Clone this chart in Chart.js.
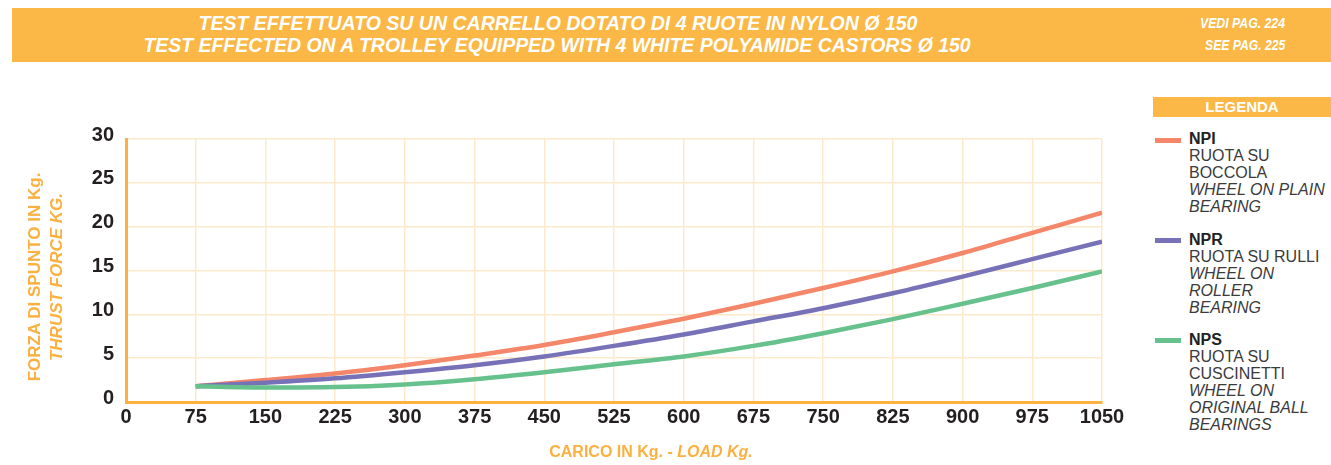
<!DOCTYPE html>
<html>
<head>
<meta charset="utf-8">
<script src="https://cdn.jsdelivr.net/npm/chart.js@4/dist/chart.umd.min.js"></script>
<style>
  html, body { margin:0; padding:0; background:#fff; }
  body { width:1331px; height:465px; position:relative; overflow:hidden; font-family:"Liberation Sans", Arial, sans-serif; }
  #hdr { position:absolute; left:12px; top:8px; width:1319px; height:54px; background:#FBB847; }
  .ht { position:absolute; white-space:nowrap; color:#fff; font-weight:bold; font-style:italic; transform-origin:center center; }
  #cv { position:absolute; left:0; top:0; }
  #legband { position:absolute; left:1153px; top:97px; width:178px; height:20px; background:#FBB847; color:#fff; font-weight:bold; font-size:15px; line-height:20px; text-align:center; }
  .sw { position:absolute; left:1155px; width:26px; height:5px; }
  .lt { position:absolute; left:1189px; font-size:16px; line-height:17px; color:#3b3b3b; white-space:nowrap; }
  .lt b { color:#222; }
  .lt i { font-style:italic; }
  #ytitle { position:absolute; left:-104px; top:255px; width:300px; height:44px; text-align:center; color:#FBB040; font-weight:bold; font-size:17px; line-height:22px; transform:rotate(-90deg); transform-origin:center center; white-space:nowrap; }
  #xtitle { position:absolute; left:451px; width:400px; top:442px; text-align:center; color:#FBB040; font-weight:bold; font-size:16px; line-height:20px; white-space:nowrap; }
</style>
</head>
<body>
<div id="hdr"></div>
<span class="ht" id="h1">TEST EFFETTUATO SU UN CARRELLO DOTATO DI 4 RUOTE IN NYLON Ø 150</span>
<span class="ht" id="h2">TEST EFFECTED ON A TROLLEY EQUIPPED WITH 4 WHITE POLYAMIDE CASTORS Ø 150</span>
<span class="ht" id="h3">VEDI PAG. 224</span>
<span class="ht" id="h4">SEE PAG. 225</span>
<canvas id="cv" width="1140" height="465"></canvas>
<div id="legband">LEGENDA</div>
<div id="legend"></div>
<div id="ytitle">FORZA DI SPUNTO IN Kg.<br><i>THRUST FORCE KG.</i></div>
<div id="xtitle">CARICO IN Kg. - <i>LOAD Kg.</i></div>
<script>
// ---- data ----
const loads = [75, 150, 225, 300, 375, 450, 525, 600, 675, 750, 825, 900, 975, 1050];
const npi = [1.8, 2.5, 3.25, 4.2, 5.3, 6.5, 7.95, 9.5, 11.2, 13.0, 14.9, 17.0, 19.3, 21.6];
const npr = [1.8, 2.2, 2.7, 3.4, 4.2, 5.2, 6.4, 7.7, 9.2, 10.7, 12.4, 14.3, 16.3, 18.3];
const nps = [1.8, 1.65, 1.7, 2.0, 2.6, 3.4, 4.3, 5.2, 6.4, 7.85, 9.45, 11.2, 13.0, 14.9];
const seriesNames = ["NPI", "NPR", "NPS"];
const seriesDescIt = [["RUOTA SU", "BOCCOLA"], ["RUOTA SU RULLI"], ["RUOTA SU", "CUSCINETTI"]];
const seriesDescEn = [["WHEEL ON PLAIN", "BEARING"], ["WHEEL ON", "ROLLER", "BEARING"], ["WHEEL ON", "ORIGINAL BALL", "BEARINGS"]];
const xTicks = [0, 75, 150, 225, 300, 375, 450, 525, 600, 675, 750, 825, 900, 975, 1050];
const yTicks = [0, 5, 10, 15, 20, 25, 30];

const colors = ["#F4866A", "#7771B8", "#67C18D"];
const allSeries = [npi, npr, nps];

// ---- header text fitting ----
function place(id, cx, cy, size, width) {
  const el = document.getElementById(id);
  el.style.fontSize = size + "px";
  el.style.lineHeight = size + "px";
  const w = el.offsetWidth, h = el.offsetHeight;
  el.style.left = (cx - w / 2) + "px";
  el.style.top = (cy - h / 2) + "px";
  el.style.transform = "scaleX(" + (width / w) + ")";
}
place("h1", 557.5, 22.5, 21, 719);
place("h2", 556.5, 44.5, 21, 827);
place("h3", 1242, 23, 14, 85);
place("h4", 1245, 45, 14, 80);

// ---- legend ----
const legend = document.getElementById("legend");
const legTops = [140, 240.7, 340.7];
seriesNames.forEach((n, i) => {
  const sw = document.createElement("div");
  sw.className = "sw";
  sw.style.top = (legTops[i] - 2.5) + "px";
  sw.style.background = colors[i];
  legend.appendChild(sw);
  const t = document.createElement("div");
  t.className = "lt";
  t.style.top = (legTops[i] - 10) + "px";
  let html = "<b>" + n + "</b>";
  seriesDescIt[i].forEach(s => html += "<br>" + s);
  seriesDescEn[i].forEach(s => html += "<br><i>" + s + "</i>");
  t.innerHTML = html;
  legend.appendChild(t);
});

// ---- chart ----
const datasets = allSeries.map((arr, i) => ({
  label: seriesNames[i],
  data: loads.map((x, k) => ({ x: x, y: arr[k] })),
  borderColor: colors[i],
  backgroundColor: colors[i],
  borderWidth: 4.5,
  pointRadius: 0,
  cubicInterpolationMode: "monotone",
  borderCapStyle: "butt",
  fill: false,
  order: 3 - i
}));

const tickFont = { family: "'Liberation Sans', Arial, sans-serif", weight: "bold", size: 20 };

new Chart(document.getElementById("cv"), {
  type: "line",
  data: { datasets: datasets },
  options: {
    responsive: false,
    animation: false,
    devicePixelRatio: 1,
    layout: { padding: { top: 139, right: 38, left: 0, bottom: 0 } },
    plugins: { legend: { display: false }, tooltip: { enabled: false }, title: { display: false } },
    scales: {
      x: {
        type: "linear",
        min: 0, max: 1050,
        afterBuildTicks: s => { s.ticks = xTicks.map(v => ({ value: v })); },
        afterFit: s => { s.height = 63; },
        ticks: { font: tickFont, color: "#231F20", padding: 3, maxRotation: 0, autoSkip: false, callback: v => String(v) },
        grid: { color: "#FDEACB", lineWidth: 1.5, drawTicks: false },
        border: { color: "#FBB040", width: 3 }
      },
      y: {
        type: "linear",
        min: 0, max: 30,
        afterBuildTicks: s => { s.ticks = yTicks.map(v => ({ value: v })); },
        afterFit: s => { s.width = 126; },
        ticks: { font: tickFont, color: "#231F20", padding: 12, labelOffset: -4, callback: v => String(v) },
        grid: { color: "#FDEACB", lineWidth: 1.5, drawTicks: false },
        border: { color: "#FBB040", width: 3 }
      }
    }
  }
});
</script>
</body>
</html>
